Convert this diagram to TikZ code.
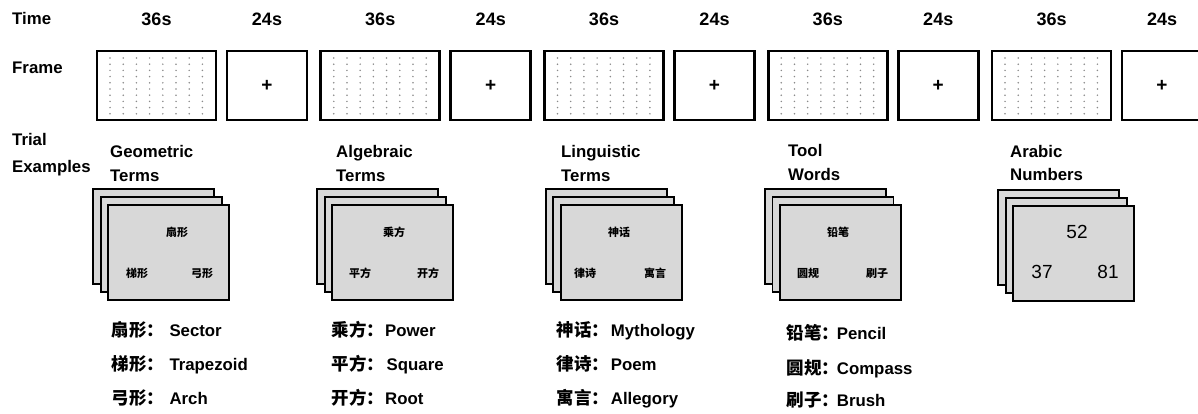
\documentclass[tikz,border=0pt]{standalone}
\usepackage{fontspec}
\setmainfont{Liberation Sans}
\newfontfamily\cjk{Noto Sans CJK SC}
\definecolor{sheetgray}{HTML}{D8D8D8}
\definecolor{dotgray}{HTML}{8A8A8A}

% three stacked sheets; #1 = name of the front sheet, (#2,#3) = its top-left corner
\newcommand\sheetstack[3]{%
  \draw[sheet] (#2-15,#3-16) rectangle ++(121,95);
  \draw[sheet] (#2-7.5,#3-8) rectangle ++(121,95);
  \node[sheet, anchor=north west, minimum width=121pt, minimum height=95pt,
        inner sep=0pt, outer sep=0pt] (#1) at (#2,#3) {};%
}

\tikzset{
  lbl/.style={anchor=base west, inner sep=0pt, font=\fontsize{16.8}{20}\selectfont\bfseries},
  hdr/.style={anchor=base, inner sep=0pt, font=\fontsize{18}{20}\selectfont\bfseries},
  frm/.style={draw, line width=2.6pt, fill=white, inner sep=0pt, outer sep=0pt},
  sheet/.style={draw, line width=1.9pt, fill=sheetgray},
  inword/.style={inner sep=0pt, font=\cjk\fontsize{11}{12}\selectfont\bfseries},
  innum/.style={inner sep=0pt, font=\fontsize{19}{20}\selectfont},
  zh/.style={anchor=base west, inner sep=0pt, font=\cjk\fontsize{17.5}{20}\selectfont\bfseries},
  en/.style={lbl},
  cross/.style={inner sep=0pt, font=\fontsize{19}{19}\selectfont\bfseries},
}

\begin{document}
\begin{tikzpicture}[x=1pt, y=-1pt]
\useasboundingbox (0,0) rectangle (1198,414);
\clip (0,0) rectangle (1198,414);

% row titles
\node[lbl] (time)  at (12,25)  {Time};
\node[lbl] (frame) at (12,74)  {Frame};
\node[lbl] (trial) at (12,146) {Trial};
\node[lbl] (examples) at (12,172) {Examples};

% task blocks (dotted) and fixation blocks (+)
\foreach \k in {0,...,4}{
  \pgfmathsetmacro\dx{97+223.75*\k}
  \pgfmathsetmacro\cx{227+223.75*\k}
  \node[frm, minimum width=119pt, minimum height=69pt] (task\k) at (\dx+59.5,85.5) {};
  \foreach \i in {0,...,7}{
    \foreach \j in {0,...,9}{
      \fill[dotgray] (\dx+13+13.2*\i,58+6.2*\j) circle (0.85pt);
    }
  }
  \node[hdr] (tt\k) at (\dx+59.5,26) {36s};
  \node[frm, minimum width=80pt, minimum height=69pt] (fix\k) at (\cx+40,85.5) {};
  \node[cross] (plus\k) at (fix\k.center) {+};
  \node[hdr] (ft\k) at (\cx+40,26) {24s};
}

% category titles
\node[lbl] (c1a) at (110,158)   {Geometric};
\node[lbl] (c1b) at (110,181.5) {Terms};
\node[lbl] (c2a) at (336,158)   {Algebraic};
\node[lbl] (c2b) at (336,181.5) {Terms};
\node[lbl] (c3a) at (561,158)   {Linguistic};
\node[lbl] (c3b) at (561,181.5) {Terms};
\node[lbl] (c4a) at (788,157)   {Tool};
\node[lbl] (c4b) at (788,180)   {Words};
\node[lbl] (c5a) at (1010,158)  {Arabic};
\node[lbl] (c5b) at (1010,180)  {Numbers};

% stimulus sheets
\sheetstack{s1}{108.3}{205}
\sheetstack{s2}{332.3}{205}
\sheetstack{s3}{560.7}{205}
\sheetstack{s4}{780}{205}
\sheetstack{s5}{1013.3}{206}

\node[inword] (w1t) at (177,232) {扇形};
\node[inword] (w1l) at (137,273) {梯形};
\node[inword] (w1r) at (202,273) {弓形};
\node[inword] (w2t) at (394,232) {乘方};
\node[inword] (w2l) at (360,273) {平方};
\node[inword] (w2r) at (428,273) {开方};
\node[inword] (w3t) at (619,232) {神话};
\node[inword] (w3l) at (585,273) {律诗};
\node[inword] (w3r) at (655,273) {寓言};
\node[inword] (w4t) at (838,232) {铅笔};
\node[inword] (w4l) at (808,273) {圆规};
\node[inword] (w4r) at (877,273) {刷子};
\node[innum]  (n5t) at (1077,232) {52};
\node[innum]  (n5l) at (1042,272) {37};
\node[innum]  (n5r) at (1108,272) {81};

% glossary
\node[zh] (z11) at (111.7,336.7) {扇形：};  \node[en] (e11) at (169.3,336.7) {Sector};
\node[zh] (z12) at (111.7,370)   {梯形：};  \node[en] (e12) at (169.3,370)   {Trapezoid};
\node[zh] (z13) at (111.7,404)   {弓形：};  \node[en] (e13) at (169.3,404)   {Arch};

\node[zh] (z21) at (331.7,336.7) {乘方：};  \node[en] (e21) at (385,336.7) {Power};
\node[zh] (z22) at (331.7,370)   {平方：};  \node[en] (e22) at (386.5,370) {Square};
\node[zh] (z23) at (331.7,404)   {开方：};  \node[en] (e23) at (385,404)   {Root};

\node[zh] (z31) at (556.7,336.7) {神话：};  \node[en] (e31) at (610.7,336.7) {Mythology};
\node[zh] (z32) at (556.7,370)   {律诗：};  \node[en] (e32) at (610.7,370)   {Poem};
\node[zh] (z33) at (556.7,404)   {寓言：};  \node[en] (e33) at (610.7,404)   {Allegory};

\node[zh] (z41) at (786.7,339.3) {铅笔：};  \node[en] (e41) at (836.7,339.3) {Pencil};
\node[zh] (z42) at (786.7,374)   {圆规：};  \node[en] (e42) at (836.7,374)   {Compass};
\node[zh] (z43) at (786.7,406.7) {刷子：};  \node[en] (e43) at (836.7,406.7) {Brush};
\end{tikzpicture}
\end{document}
